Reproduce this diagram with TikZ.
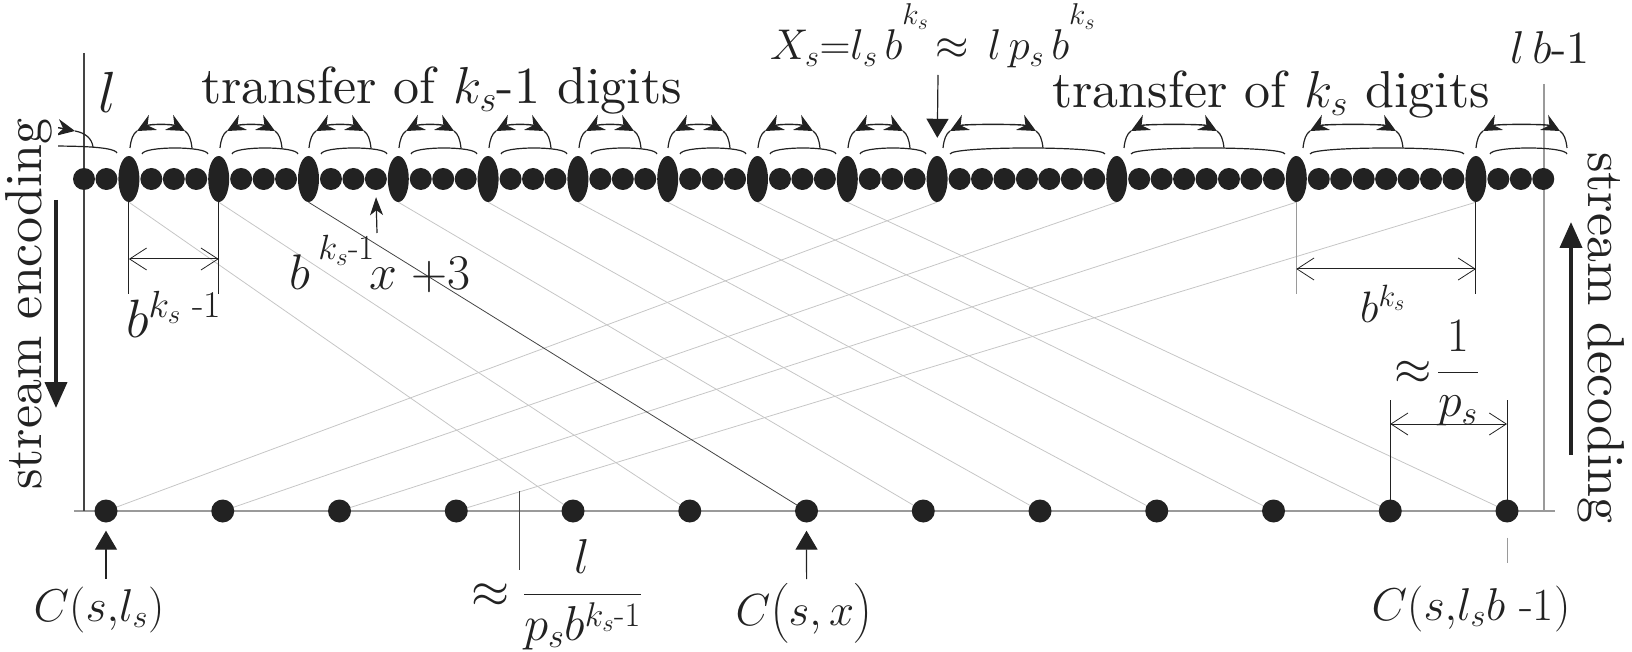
\RequirePackage{fix-cm}
\documentclass[tikz,border=0pt]{standalone}
\usepackage{amsmath}
\usetikzlibrary{arrows.meta,shapes.geometric,backgrounds}
\definecolor{dotc}{HTML}{222222}
\definecolor{lgray}{HTML}{C6C6C6}
\definecolor{mgray}{HTML}{9A9A9A}
\definecolor{dgray}{HTML}{444444}
\newcommand{\fs}[1]{\fontsize{#1}{#1}\selectfont}
\newcommand{\tf}[1]{\fontsize{#1}{#1}\selectfont\font\tmpfont="[lmroman10-regular]" at #1pt\tmpfont}
\begin{document}
\begin{tikzpicture}[x=1pt,y=-1pt,
  sdot/.style={circle,fill=dotc,inner sep=0,minimum size=22pt},
  edot/.style={ellipse,fill=dotc,inner sep=0,minimum width=21pt,minimum height=46pt},
  bdot/.style={circle,fill=dotc,inner sep=0,minimum size=23pt},
  diag/.style={lgray,line width=0.8pt},
  diagdark/.style={dgray,line width=0.8pt},
  arctop/.style={dotc,line width=1.4pt,{Stealth[length=18pt,width=17pt,inset=6pt]}-{Stealth[length=18pt,width=17pt,inset=6pt]}},
  arcend/.style={dotc,line width=1.4pt,-{Stealth[length=18pt,width=17pt,inset=6pt]}},
  arctail/.style={dotc,line width=1.2pt},
  brk/.style={dotc,line width=1.2pt},
  dim/.style={dotc,line width=1pt},
  dimarr/.style={dotc,line width=1pt,{Straight Barb[length=17pt,width=22pt,line width=0.8pt]}-{Straight Barb[length=17pt,width=22pt,line width=0.8pt]}},
  ptr/.style={dotc,line width=1.2pt,-{Triangle[length=19pt,width=22pt]}},
  ptrb/.style={dotc,line width=1.2pt,-{Stealth[length=18pt,width=13pt,inset=5pt]}},
  bigarr/.style={dotc,line width=4pt,-{Triangle[length=26pt,width=22pt]}},
  lbl/.style={inner sep=0,text=dotc},
]
\useasboundingbox (0,0) rectangle (1632,652);
% helper levels
\coordinate (y259) at (0,259);
\coordinate (y269) at (0,269);
\coordinate (y294) at (0,294);
\coordinate (y400) at (0,400);
\coordinate (y424) at (0,424);
% top row
\foreach \i in {0,...,65}{
  \pgfmathtruncatemacro\isE{or(and(\i<=38,mod(\i,4)==2),and(\i>38,mod(\i-38,8)==0))}
  \ifnum\isE=1
    \node[edot] (t\i) at ({84+22.45*\i},179) {};
  \else
    \node[sdot] (t\i) at ({84+22.45*\i},179) {};
  \fi
}
% bottom row
\foreach \j in {0,...,12}{
  \node[bdot] (b\j) at ({106+116.75*\j},511) {};
}
\begin{pgfonlayer}{background}
  \foreach \j in {0,...,3}{
    \pgfmathtruncatemacro\ti{38+8*\j}
    \draw[diag] (t\ti.south) -- (b\j.center);
  }
  \foreach \j in {4,5,7,8,9,10,11,12}{
    \pgfmathtruncatemacro\ti{4*\j-14}
    \draw[diag] (t\ti.south) -- (b\j.center);
  }
  \draw[diagdark] (t10.south) -- (b6.center);
  \coordinate (BL) at (74,511);
  \coordinate (BR) at (1555,511);
  \draw[mgray,line width=1.8pt] (BL) -- (BR);
  \coordinate (LT) at (84,53);
  \draw[dgray,line width=1.2pt] (LT) -- (LT |- BL);
  \coordinate (RT) at (1544,84);
  \draw[mgray,line width=1.2pt] (RT) -- (RT |- BL);
\end{pgfonlayer}
% transfer arcs: \xa = left end, \xb = right end of the double arrow
\foreach \xa/\xb/\ba/\bb in {
  130/192/142/208, 220/282/232/298, 309/371/321/387, 399/461/411/477,
  489/551/501/567, 579/641/591/657, 668/730/680/746, 758/820/770/836,
  848/910/860/926, 943/1043/950/1105, 1124/1224/1131/1285,
  1303/1403/1310/1464, 1476/1567/1490/1567}{
  \draw[arctail] (\xa,148) .. controls ({\xa+1},139) and ({\xa+3},134) .. ({\xa+7},131);
  \draw[arctop] ({\xa+7},131) .. controls ({\xa+20},124) and ({\xb-20},124) .. ({\xb-7},131);
  \draw[arctail] ({\xb-7},131) .. controls ({\xb-3},134) and ({\xb-1},139) .. (\xb,148);
  \draw[brk] (\ba,154) .. controls ({\ba+2},146) and ({\bb-2},146) .. (\bb,154);
}
\begin{scope}
  \clip (58,0) rectangle (1632,652);
  \draw[arcend] (40,127) .. controls (55,127) .. (75,131);
  \draw[brk] (40,146) .. controls (70,146) and (114,146) .. (117,153);
\end{scope}
\draw[arctail] (75,131) .. controls (86,133) and (92,139) .. (93,147);
% dimensions
\draw[dim] (t2.south) -- (t2.south |- y294);
\draw[dim] (t6.south) -- (t6.south |- y294);
\draw[dimarr] (t2.south |- y259) -- (t6.south |- y259);
\draw[dim,mgray] (t54.south) -- (t54.south |- y294);
\draw[dim] (t62.south) -- (t62.south |- y294);
\draw[dimarr] (t54.south |- y269) -- (t62.south |- y269);
\draw[dim] (b11.center) -- (b11.center |- y400);
\draw[dim] (b12.center) -- (b12.center |- y400);
\draw[dimarr] (b11.center |- y424) -- (b12.center |- y424);
\coordinate (m1) at (519,491);
\coordinate (m2) at (519,570);
\draw[dgray,line width=1pt] (m1) -- (m2);
% pointers
\coordinate (XsA) at (938,75);
\draw[ptr,shorten >=18pt] (XsA) -- (t38.north);
\coordinate (xpA) at (377,233);
\draw[ptrb,shorten >=7pt] (xpA) -- (t13.south);
\coordinate (c0A) at (106,579);
\draw[ptr,shorten >=8pt] (c0A) -- (b0.south);
\coordinate (c6A) at (806.6,579);
\draw[ptr,shorten >=8pt] (c6A) -- (b6.south);
\coordinate (c12A) at (1507,563);
\draw[mgray,line width=1pt,shorten <=15pt] (b12.south) -- (c12A);
% big arrows
\coordinate (EncA) at (56,200);
\coordinate (EncB) at (56,408);
\draw[bigarr] (EncA) -- (EncB);
\coordinate (DecA) at (1571,455);
\coordinate (DecB) at (1571,222);
\draw[bigarr] (DecA) -- (DecB);
% texts
\node[lbl,anchor=base west] (tr1) at (201,104) {\tf{52}transfer of $k_s$-1 digits};
\node[lbl,anchor=base west] (tr2) at (1052,108) {\tf{52}transfer of $k_s$ digits};
\node[lbl,anchor=base west] (xsl) at (770,60) {\fs{43}$X_s{=}l_s\, b\raisebox{0.82em}{$\scriptstyle k_s$}\,{\approx}\;\, l\,p_s\, b\raisebox{0.82em}{$\scriptstyle k_s$}$};
\node[lbl,anchor=base west] (ll) at (98,113) {\fs{58}$l$};
\node[lbl,anchor=base west] (lb) at (1510,64) {\fs{46}$l\,b$\tf{46}-1};
\node[lbl,anchor=base west] (dk1) at (126,337) {\fs{54}$b^{k_s\text{ -1}}$};
\node[lbl,anchor=base west] (xp3) at (289,290) {\fs{50}$b\,\raisebox{0.6em}{$\scriptstyle k_s\text{-1}$}\hspace{-5pt}x\;{+}3$};
\node[lbl,anchor=base west] (dk) at (1360,322) {\fs{44}$b^{k_s}$};
\node[lbl,anchor=base west] (ip) at (1394,384) {\fs{48}$\approx\!\dfrac{1}{p_s}$};
\node[lbl,anchor=base west] (lp) at (471,607) {\fs{49}$\approx\dfrac{l}{p_s b^{k_s\text{-1}}}$};
\node[lbl,anchor=base] (cl) at (99,621) {\fs{46}$C(s{,}l_s)$};
\node[lbl,anchor=base] (cx) at (804,625) {\fs{45}$C\big(s,x\big)$};
\node[lbl,anchor=base] (cb) at (1471,620) {\fs{46}$C(s{,}l_s b\text{ -1})$};
\node[lbl,rotate=90,anchor=base] (enc) at (41,304) {\tf{52}stream encoding};
\node[lbl,rotate=-90,anchor=base] (dec) at (1588,338) {\tf{52}stream decoding};
\end{tikzpicture}
\end{document}
